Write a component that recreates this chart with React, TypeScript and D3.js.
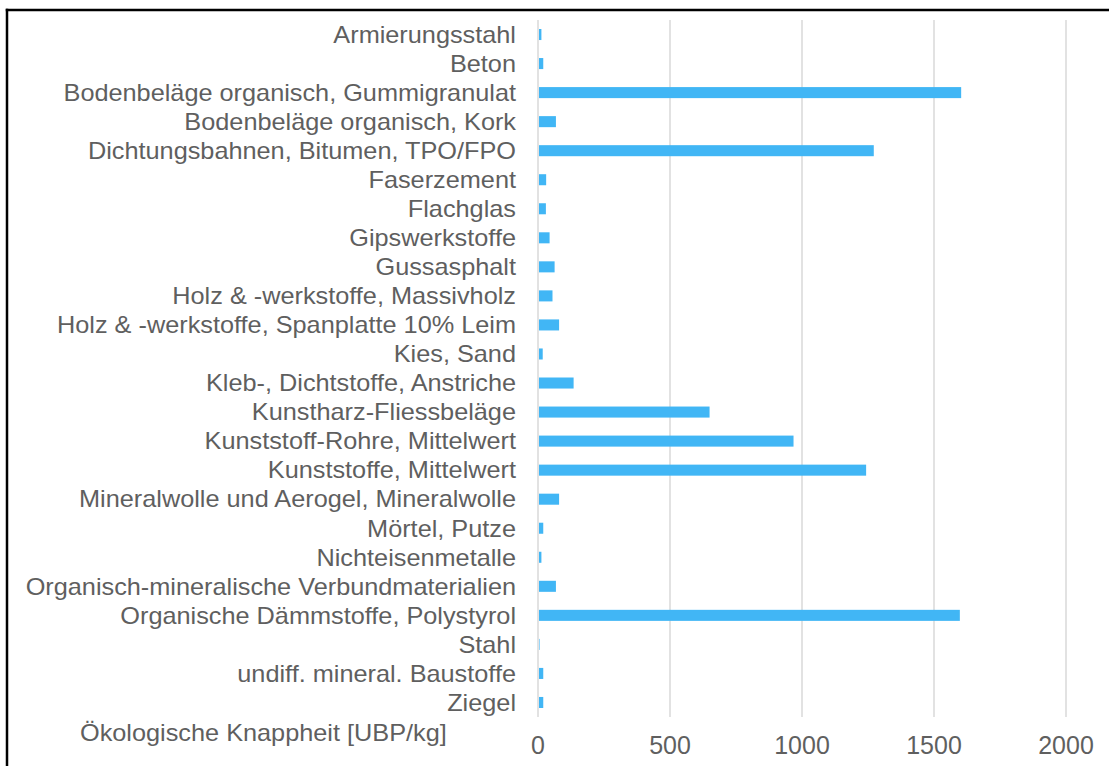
import React from "react";
import * as d3 from "d3";

const categories = [
  "Armierungsstahl",
  "Beton",
  "Bodenbeläge organisch, Gummigranulat",
  "Bodenbeläge organisch, Kork",
  "Dichtungsbahnen, Bitumen, TPO/FPO",
  "Faserzement",
  "Flachglas",
  "Gipswerkstoffe",
  "Gussasphalt",
  "Holz & -werkstoffe, Massivholz",
  "Holz & -werkstoffe, Spanplatte 10% Leim",
  "Kies, Sand",
  "Kleb-, Dichtstoffe, Anstriche",
  "Kunstharz-Fliessbeläge",
  "Kunststoff-Rohre, Mittelwert",
  "Kunststoffe, Mittelwert",
  "Mineralwolle und Aerogel, Mineralwolle",
  "Mörtel, Putze",
  "Nichteisenmetalle",
  "Organisch-mineralische Verbundmaterialien",
  "Organische Dämmstoffe, Polystyrol",
  "Stahl",
  "undiff. mineral. Baustoffe",
  "Ziegel",
];

const values = [
  11, 18, 1601, 66, 1270, 29, 28, 42, 61, 53, 78, 16, 133, 648, 966, 1241, 78,
  18, 11, 66, 1596, 4, 18, 18,
];

const xTicks = [0, 500, 1000, 1500, 2000];
const axisTitle = "Ökologische Knappheit [UBP/kg]";

const W = 1109;
const H = 766;
const FONT = "'Liberation Sans', Arial, Helvetica, sans-serif";
const TEXT = "#5f5f5f";
const BAR = "#41b6f5";
const GRID = "#d9d9d9";

export default function App() {
  const x = d3.scaleLinear().domain([0, 2000]).range([538, 1066]);
  const y = d3
    .scaleBand<string>()
    .domain(categories)
    .range([20, 717])
    .paddingInner(0.62)
    .paddingOuter(0.31);
  const labelRight = 516;
  const sx = 1.1;

  return (
    <svg
      width={W}
      height={H}
      style={{ position: "absolute", left: 0, top: 0, background: "#fff" }}
      fontFamily={FONT}
    >
      <rect x={0} y={0} width={W} height={H} fill="#fff" />
      <line x1={5.75} x2={W} y1={10} y2={10} stroke="#000" strokeWidth={2.5} />
      <line x1={7} x2={7} y1={8.75} y2={H} stroke="#000" strokeWidth={2.5} />
      {xTicks.map((t) => (
        <line
          key={t}
          x1={x(t)}
          x2={x(t)}
          y1={20}
          y2={717}
          stroke={GRID}
          strokeWidth={1.5}
        />
      ))}
      {categories.map((c, i) => (
        <rect
          key={c}
          x={x(0) + 1}
          y={y(c)!}
          width={Math.max(0, x(values[i]) - x(0) - 0.5)}
          height={y.bandwidth()}
          fill={BAR}
        />
      ))}
      <g transform={`translate(${labelRight},0) scale(${sx},1)`}>
        {categories.map((c) => (
          <text
            key={c}
            x={0}
            y={y(c)! + y.bandwidth() / 2}
            dy="0.36em"
            textAnchor="end"
            fontSize={23}
            fill={TEXT}
          >
            {c}
          </text>
        ))}
      </g>
      {xTicks.map((t) => (
        <text
          key={t}
          x={x(t)}
          y={745}
          dy="0.36em"
          textAnchor="middle"
          fontSize={25}
          fill={TEXT}
        >
          {t}
        </text>
      ))}
      <g transform={`translate(80,0) scale(${sx},1)`}>
        <text x={0} y={733} dy="0.36em" fontSize={23} fill={TEXT}>
          {axisTitle}
        </text>
      </g>
    </svg>
  );
}
